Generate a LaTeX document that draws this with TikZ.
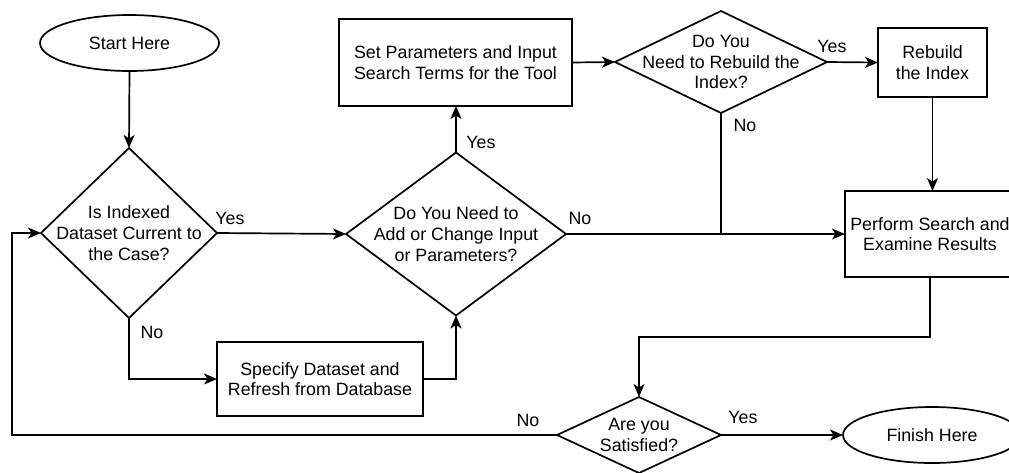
\documentclass[tikz,border=0pt]{standalone}
\usepackage{fontspec}
\setmainfont{Liberation Sans}
\usetikzlibrary{shapes.geometric,arrows.meta}
\begin{document}
\begin{tikzpicture}[x=1pt,y=-1pt,
  every node/.style={font=\fontsize{17.8pt}{20.7pt}\selectfont, align=center},
  flowline/.style={line width=1.7pt},
  arrowline/.style={flowline,-{Stealth[length=13pt,width=11pt,inset=3.5pt]}},
  terminal/.style={draw, line width=1.7pt, ellipse, inner sep=0pt, outer sep=0pt},
  process/.style={draw, line width=1.7pt, rectangle, inner sep=0pt, outer sep=0pt},
  decision/.style={draw, line width=1.7pt, diamond, inner sep=0pt, outer sep=0pt},
  tag/.style={inner sep=0pt}]
\useasboundingbox (0,0) rectangle (1009,472);
\clip (0,0) rectangle (1009,472);

% terminals
\node[terminal, minimum width=179pt, minimum height=56pt] (start) at (129.5,43) {Start Here};
\node[terminal, minimum width=178pt, minimum height=56pt] (finish) at (932,435) {Finish Here};

% process boxes
\node[process, minimum width=233pt, minimum height=87pt] (setp) at (455.5,62.5)
  {Set Parameters and Input\\Search Terms for the Tool};
\node[process, minimum width=109pt, minimum height=69pt] (rebuild) at (932.5,62.5)
  {Rebuild\\the Index};
\node[process, minimum width=170pt, minimum height=86pt] (perform) at (930,234)
  {Perform Search and\\Examine Results};
\node[process, minimum width=206pt, minimum height=74pt] (spec) at (320,379)
  {Specify Dataset and\\Refresh from Database};

% decisions (shape and text kept separate so the outline size is fixed)
\node[decision, minimum width=176pt, minimum height=170pt] (d1) at (129,233) {};
\node at (d1) {Is Indexed\\Dataset Current to\\the Case?};
\node[decision, minimum width=220pt, minimum height=163pt] (d2) at (456,234) {};
\node at (d2) {Do You Need to\\Add or Change Input\\or Parameters?};
\node[decision, minimum width=212pt, minimum height=102pt] (d3) at (721,62) {};
\node at (d3) {Do You\\Need to Rebuild the\\Index?};
\node[decision, minimum width=164pt, minimum height=76pt] (sat) at (639,435) {};
\node at (sat) {Are you\\Satisfied?};

% helper points
\coordinate (join) at (d3.south |- d2.east);
\coordinate (loop) at (12,435);

% connectors
\draw[arrowline] (start.south) -- (d1.north);
\draw[arrowline] (d1.east) -- (d2.west);
\draw[arrowline] (d1.south) |- (spec.west);
\draw[arrowline] (spec.east) -| (d2.south);
\draw[arrowline] (d2.north) -- (d2.north |- setp.south);
\draw[arrowline] (setp.east) -- (d3.west);
\draw[arrowline] (d3.east) -- (rebuild.west);
\draw[arrowline] (rebuild.south) -- (rebuild.south |- perform.north);
\draw[arrowline] (d2.east) -- (perform.west);
\draw[flowline] (d3.south) -- (join);
\draw[arrowline] (perform.south) -- ++(0,60) -| (sat.north);
\draw[arrowline] (sat.east) -- (finish.west);
\draw[arrowline] (sat.west) -- (loop) |- (d1.west);

% branch labels
\node[tag] (y1) at (230,218) {Yes};
\node[tag] (n1) at (152,332) {No};
\node[tag] (y2) at (481,142) {Yes};
\node[tag] (n2) at (580,218) {No};
\node[tag] (y3) at (832,46) {Yes};
\node[tag] (n3) at (745,125) {No};
\node[tag] (n4) at (528,420) {No};
\node[tag] (y4) at (743,417) {Yes};
\end{tikzpicture}
\end{document}
